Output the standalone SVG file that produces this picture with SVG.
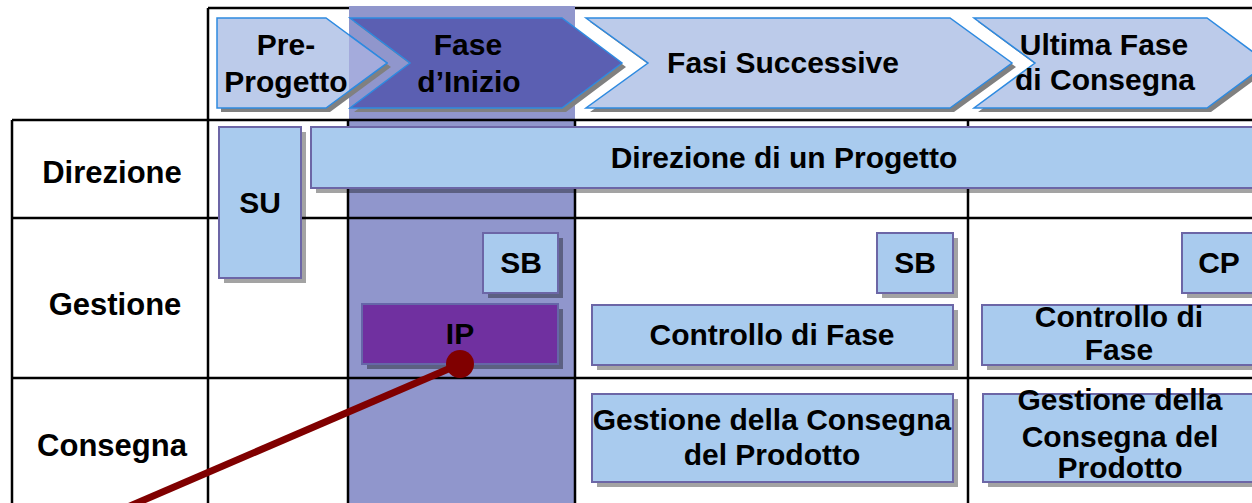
<svg xmlns="http://www.w3.org/2000/svg" width="1252" height="503" viewBox="0 0 1252 503">
<style>
.t{font-family:"Liberation Sans",Arial,sans-serif;font-weight:bold;font-size:30px;fill:#000;text-anchor:middle}
.lbl{font-size:31px}
.grid{stroke:#000;stroke-width:2.5;fill:none}
.box{fill:#a9cbee;stroke:#6c66a6;stroke-width:2}
.shd{fill:#000;opacity:.36}
.arr{stroke:#2e8ae0;stroke-width:1.5}
.ash{fill:#808080}
</style>
<defs>
<clipPath id="colclip"><rect x="349" y="0" width="226" height="503"/></clipPath>
</defs>
<rect x="0" y="0" width="1252" height="503" fill="#fff"/>
<line class="grid" x1="208" y1="8" x2="1252" y2="8"/>
<!-- Fase d'Inizio column -->
<rect id="colonna-inizio" x="349" y="6" width="226" height="497" fill="#9096cc"/>
<!-- grid -->
<g id="griglia" class="grid">
<line x1="208" y1="8" x2="208" y2="503"/>
<line x1="12" y1="120" x2="1252" y2="120"/>
<line x1="12" y1="120" x2="12" y2="503"/>
<line x1="12" y1="218" x2="1252" y2="218"/>
<line x1="12" y1="378" x2="1252" y2="378"/>
<line x1="348" y1="120" x2="348" y2="503"/>
<line x1="575" y1="120" x2="575" y2="503"/>
<line x1="968" y1="120" x2="968" y2="503"/>
</g>
<!-- header arrows -->
<g id="pre-progetto">
<polygon class="ash" points="221,22 330,22 391,67 330,112 221,112"/>
<polygon class="arr" fill="#bccbea" points="217,18 326,18 387,63 326,108 217,108"/>
<polygon class="arr" fill="#a4abdc" clip-path="url(#colclip)" points="217,18 326,18 387,63 326,108 217,108"/>
<text class="t" x="286" y="55">Pre-</text>
<text class="t" x="286" y="92">Progetto</text>
</g>
<g id="fase-inizio">
<polygon class="ash" points="354,22 566,22 626,67 566,112 354,112 414,67"/>
<polygon class="arr" fill="#5b5fb2" points="350,18 562,18 622,63 562,108 350,108 410,63"/>
<text class="t" x="468" y="55">Fase</text>
<text class="t" x="469" y="92">d’Inizio</text>
</g>
<g id="fasi-successive">
<polygon class="ash" points="590,22 954,22 1016,67 954,112 590,112 652,67"/>
<polygon class="arr" fill="#bccbea" points="586,18 950,18 1012,63 950,108 586,108 648,63"/>
<text class="t" x="783" y="73">Fasi Successive</text>
</g>
<g id="ultima-fase">
<polygon class="ash" points="978,22 1211,22 1272,67 1211,112 978,112 1039,67"/>
<polygon class="arr" fill="#bccbea" points="974,18 1207,18 1268,63 1207,108 974,108 1035,63"/>
<text class="t" x="1104" y="55">Ultima Fase</text>
<text class="t" x="1105" y="90">di Consegna</text>
</g>
<!-- row labels -->
<g id="riga-direzione"><text class="t lbl" x="112" y="183">Direzione</text></g>
<g id="riga-gestione"><text class="t lbl" x="115" y="315">Gestione</text></g>
<g id="riga-consegna"><text class="t lbl" x="112" y="456">Consegna</text></g>
<!-- boxes -->
<g id="su">
<rect class="shd" x="224" y="132" width="82" height="151"/>
<rect class="box" x="219" y="127" width="82" height="151"/>
<text class="t" x="260" y="213">SU</text>
</g>
<g id="direzione-progetto">
<rect class="shd" x="316" y="132" width="946" height="61"/>
<rect class="box" x="311" y="127" width="946" height="61"/>
<text class="t" x="784" y="168">Direzione di un Progetto</text>
</g>
<g id="sb-inizio">
<rect class="shd" x="488" y="238" width="75" height="60"/>
<rect class="box" x="483" y="233" width="75" height="60"/>
<text class="t" x="521" y="273">SB</text>
</g>
<g id="ip">
<rect class="shd" x="367" y="309" width="196" height="60"/>
<rect x="362" y="304" width="196" height="60" fill="#7030a0" stroke="#6666a8" stroke-width="2"/>
<text class="t" x="460" y="344">IP</text>
</g>
<g id="sb-successive">
<rect class="shd" x="882" y="238" width="76" height="60"/>
<rect class="box" x="877" y="233" width="76" height="60"/>
<text class="t" x="915" y="273">SB</text>
</g>
<g id="cp">
<rect class="shd" x="1187" y="238" width="75" height="60"/>
<rect class="box" x="1182" y="233" width="75" height="60"/>
<text class="t" x="1219" y="273">CP</text>
</g>
<g id="controllo-fase">
<rect class="shd" x="597" y="310" width="361" height="60"/>
<rect class="box" x="592" y="305" width="361" height="60"/>
<text class="t" x="772" y="345">Controllo di Fase</text>
</g>
<g id="controllo-fase-ultima">
<rect class="shd" x="987" y="310" width="274" height="60"/>
<rect class="box" x="982" y="305" width="274" height="60"/>
<text class="t" x="1119" y="327">Controllo di</text>
<text class="t" x="1119" y="360">Fase</text>
</g>
<g id="consegna-prodotto">
<rect class="shd" x="597" y="399" width="361" height="88"/>
<rect class="box" x="592" y="394" width="361" height="88"/>
<text class="t" x="772" y="430">Gestione della Consegna</text>
<text class="t" x="772" y="465">del Prodotto</text>
</g>
<g id="consegna-prodotto-ultima">
<rect class="shd" x="988" y="399" width="273" height="88"/>
<rect class="box" x="983" y="394" width="273" height="88"/>
<text class="t" x="1120" y="410">Gestione della</text>
<text class="t" x="1120" y="447">Consegna del</text>
<text class="t" x="1120" y="478">Prodotto</text>
</g>
<!-- connector -->
<g id="connettori">
<line x1="460" y1="364" x2="116" y2="512" stroke="#800000" stroke-width="7"/>
<circle cx="460" cy="364" r="14" fill="#800000"/>
</g>
</svg>
